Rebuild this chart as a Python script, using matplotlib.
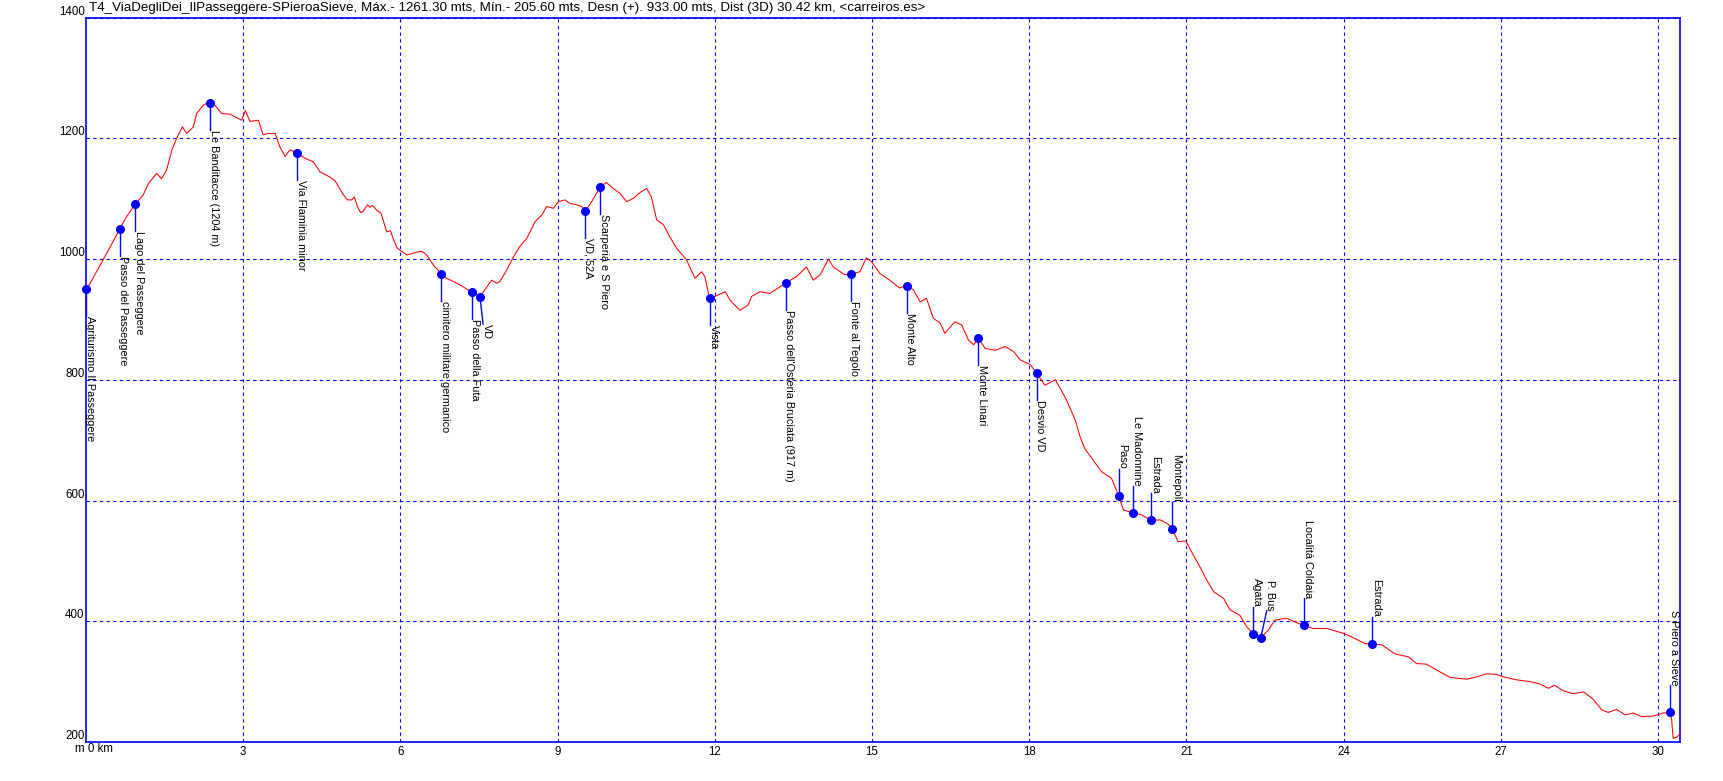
import matplotlib
matplotlib.use("Agg")
import matplotlib.pyplot as plt

# elevation profile (km, m)
dist_km = [0.00, 0.06, 0.24, 0.36, 0.46, 0.64, 0.75, 0.94, 1.09, 1.19, 1.35, 1.44, 1.54, 1.64, 1.73,
           1.84, 1.92, 2.05, 2.11, 2.24, 2.37, 2.46, 2.59, 2.75, 2.97, 3.04, 3.13, 3.29, 3.38, 3.48,
           3.61, 3.70, 3.80, 3.89, 4.03, 4.18, 4.34, 4.46, 4.65, 4.75, 4.82, 4.90, 4.99, 5.07, 5.12,
           5.18, 5.24, 5.29, 5.37, 5.42, 5.47, 5.55, 5.63, 5.69, 5.74, 5.81, 5.87, 5.94, 6.02, 6.12,
           6.18, 6.28, 6.41, 6.50, 6.63, 6.78, 6.88, 7.01, 7.20, 7.36, 7.45, 7.52, 7.61, 7.74, 7.84,
           7.90, 8.03, 8.16, 8.28, 8.41, 8.57, 8.70, 8.79, 8.92, 9.01, 9.14, 9.24, 9.36, 9.46, 9.53,
           9.65, 9.81, 9.93, 10.06, 10.19, 10.32, 10.45, 10.57, 10.70, 10.79, 10.89, 11.02, 11.14,
           11.27, 11.46, 11.62, 11.75, 11.81, 11.88, 11.91, 12.00, 12.20, 12.29, 12.48, 12.64, 12.70,
           12.86, 13.05, 13.35, 13.56, 13.75, 13.88, 14.01, 14.17, 14.26, 14.48, 14.59, 14.77, 14.89,
           14.99, 15.15, 15.34, 15.53, 15.66, 15.79, 15.92, 16.04, 16.17, 16.30, 16.39, 16.58, 16.71,
           16.84, 16.94, 17.03, 17.16, 17.35, 17.54, 17.70, 17.83, 18.02, 18.14, 18.30, 18.50, 18.71,
           18.88, 18.97, 19.06, 19.22, 19.38, 19.48, 19.57, 19.71, 19.80, 19.99, 20.15, 20.33, 20.50,
           20.65, 20.73, 20.84, 20.99, 21.13, 21.26, 21.39, 21.52, 21.71, 21.83, 22.02, 22.15, 22.28,
           22.42, 22.56, 22.69, 22.91, 23.10, 23.25, 23.42, 23.68, 24.00, 24.18, 24.41, 24.55, 24.73,
           24.98, 25.24, 25.39, 25.58, 25.78, 26.03, 26.35, 26.54, 26.73, 26.92, 27.05, 27.30, 27.56,
           27.75, 27.91, 28.03, 28.19, 28.38, 28.58, 28.76, 28.93, 29.05, 29.21, 29.37, 29.53, 29.69,
           29.91, 30.10, 30.23, 30.26, 30.29, 30.36, 30.42]
elev_m = [950, 957, 985, 1004, 1020, 1049, 1067, 1091, 1106, 1125, 1142, 1133, 1148, 1181, 1200,
          1219, 1208, 1219, 1241, 1255, 1261, 1255, 1241, 1240, 1230, 1246, 1228, 1230, 1206, 1208,
          1208, 1186, 1170, 1181, 1176, 1167, 1161, 1145, 1136, 1130, 1120, 1108, 1098, 1098, 1103,
          1087, 1077, 1079, 1090, 1086, 1089, 1081, 1076, 1059, 1045, 1047, 1032, 1018, 1013, 1007,
          1008, 1011, 1013, 1007, 990, 976, 968, 963, 954, 945, 941, 937, 949, 965, 960,
          963, 982, 1004, 1021, 1034, 1062, 1073, 1087, 1084, 1095, 1098, 1092, 1090, 1087, 1080,
          1095, 1119, 1127, 1117, 1109, 1095, 1101, 1110, 1117, 1103, 1065, 1057, 1037,
          1018, 999, 968, 979, 971, 943, 935, 938, 946, 932, 915, 924, 938,
          946, 943, 960, 971, 987, 965, 974, 1000, 987, 974, 975, 979, 1002,
          996, 976, 965, 952, 956, 949, 929, 935, 902, 894, 877, 896, 891,
          866, 858, 869, 852, 849, 855, 847, 833, 825, 811, 791, 800, 767,
          733, 706, 686, 667, 648, 642, 637, 607, 584, 580, 576, 567, 568,
          561, 553, 532, 533, 510, 490, 468, 449, 438, 419, 410, 391, 379,
          373, 385, 402, 405, 398, 393, 388, 388, 380, 373, 363, 362, 361,
          346, 341, 330, 329, 319, 307, 304, 308, 313, 312, 308, 303, 300,
          296, 289, 294, 285, 280, 283, 271, 253, 249, 254, 245, 248, 242,
          243, 248, 249, 237, 206, 208, 214]

# waypoints
wp_km = [0.00, 0.64, 0.94, 2.37, 4.03, 6.78, 7.36, 7.52, 9.53, 9.81, 11.91, 13.35, 14.59,
         15.66, 17.03, 18.14, 19.71, 19.99, 20.33, 20.73, 22.28, 22.42, 23.25, 24.55, 30.23]
wp_elev = [950, 1049, 1091, 1258, 1176, 976, 945, 937, 1080, 1119, 935, 960, 975,
           956, 869, 811, 607, 580, 567, 553, 379, 373, 393, 362, 249]
wp_names = ["Agriturismo Il Passeggere", "Passo del Passeggere", "Lago del Passeggere",
            "Le Banditacce (1204 m)", "Via Flaminia minor", "cimitero militare germanico",
            "Passo della Futa", "VD", "VD, 52A", "Scarperia e S Piero", "Vista",
            "Passo dell'Osteria Bruciata (917 m)", "Fonte al Tegolo", "Monte Alto",
            "Monte Linari", "Desvio VD", "Paso", "Le Madonnine", "Estrada", "Montepoli",
            "Agata", "P. Bus", "Localitá Coldaia", "Estrada", "S Piero a Sieve"]
wp_up = [False] * 16 + [True] * 9

title = ("T4_ViaDegliDei_IlPasseggere-SPieroaSieve, Máx.- 1261.30 mts, Mín.- 205.60 mts, "
         "Desn (+). 933.00 mts, Dist (3D) 30.42 km, <carreiros.es>")

W, H = 1723, 781
x0, x1, y0, y1 = 86, 1680, 17.6, 742      # axes box in pixels
xmax = 30.42
plt.rcParams['font.family'] = ['Liberation Sans', 'DejaVu Sans']

fig = plt.figure(figsize=(W / 100, H / 100), dpi=100)
ax = fig.add_axes([x0 / W, 1 - y1 / H, (x1 - x0) / W, (y1 - y0) / H])
ax.set_xlim(0, xmax)
ax.set_ylim(200, 1400)

km_px = xmax / (x1 - x0)
m_px = 1200 / (y1 - y0)

ax.grid(True, color='#0000ff', linestyle=(0, (3, 3)), linewidth=0.8)
for s in ax.spines.values():
    s.set_color('#0000ff')
    s.set_linewidth(1.2)

ax.plot(dist_km, elev_m, color='#ff0000', linewidth=0.75, zorder=3)

# stems + labels
shift_px = {7: 3, 21: 6}
stem_px = 27
for i, (k, e, name, up) in enumerate(zip(wp_km, wp_elev, wp_names, wp_up)):
    dx = shift_px.get(i, 0) * km_px
    dy = stem_px * m_px * (1 if up else -1)
    ax.plot([k, k + dx], [e, e + dy], color='#0000ff', linewidth=1.0, zorder=4, clip_on=False)
    ax.text(k + dx - 1.5 * km_px, e + dy, name, rotation=270, ha='left',
            va='bottom' if up else 'top', fontsize=7.8, color='black', zorder=5)
ax.plot(wp_km, wp_elev, 'o', color='#0000ff', markersize=5.5, zorder=6, clip_on=False)

ax.set_xticks([3, 6, 9, 12, 15, 18, 21, 24, 27, 30])
ax.set_yticks([200, 400, 600, 800, 1000, 1200, 1400])
ax.tick_params(length=0, labelsize=8.3, colors='black')
ax.tick_params(axis='x', pad=3)
ax.tick_params(axis='y', pad=1)
for lab in ax.get_yticklabels():
    lab.set_va('bottom')

fig.text(75 / W, 1 - 749 / H, "m 0 km", fontsize=8.3, ha='left', va='center')
fig.text(89 / W, 1 - 7.5 / H, title, fontsize=9.6, ha='left', va='center')

fig.savefig('out.png', dpi=100, facecolor='white')
